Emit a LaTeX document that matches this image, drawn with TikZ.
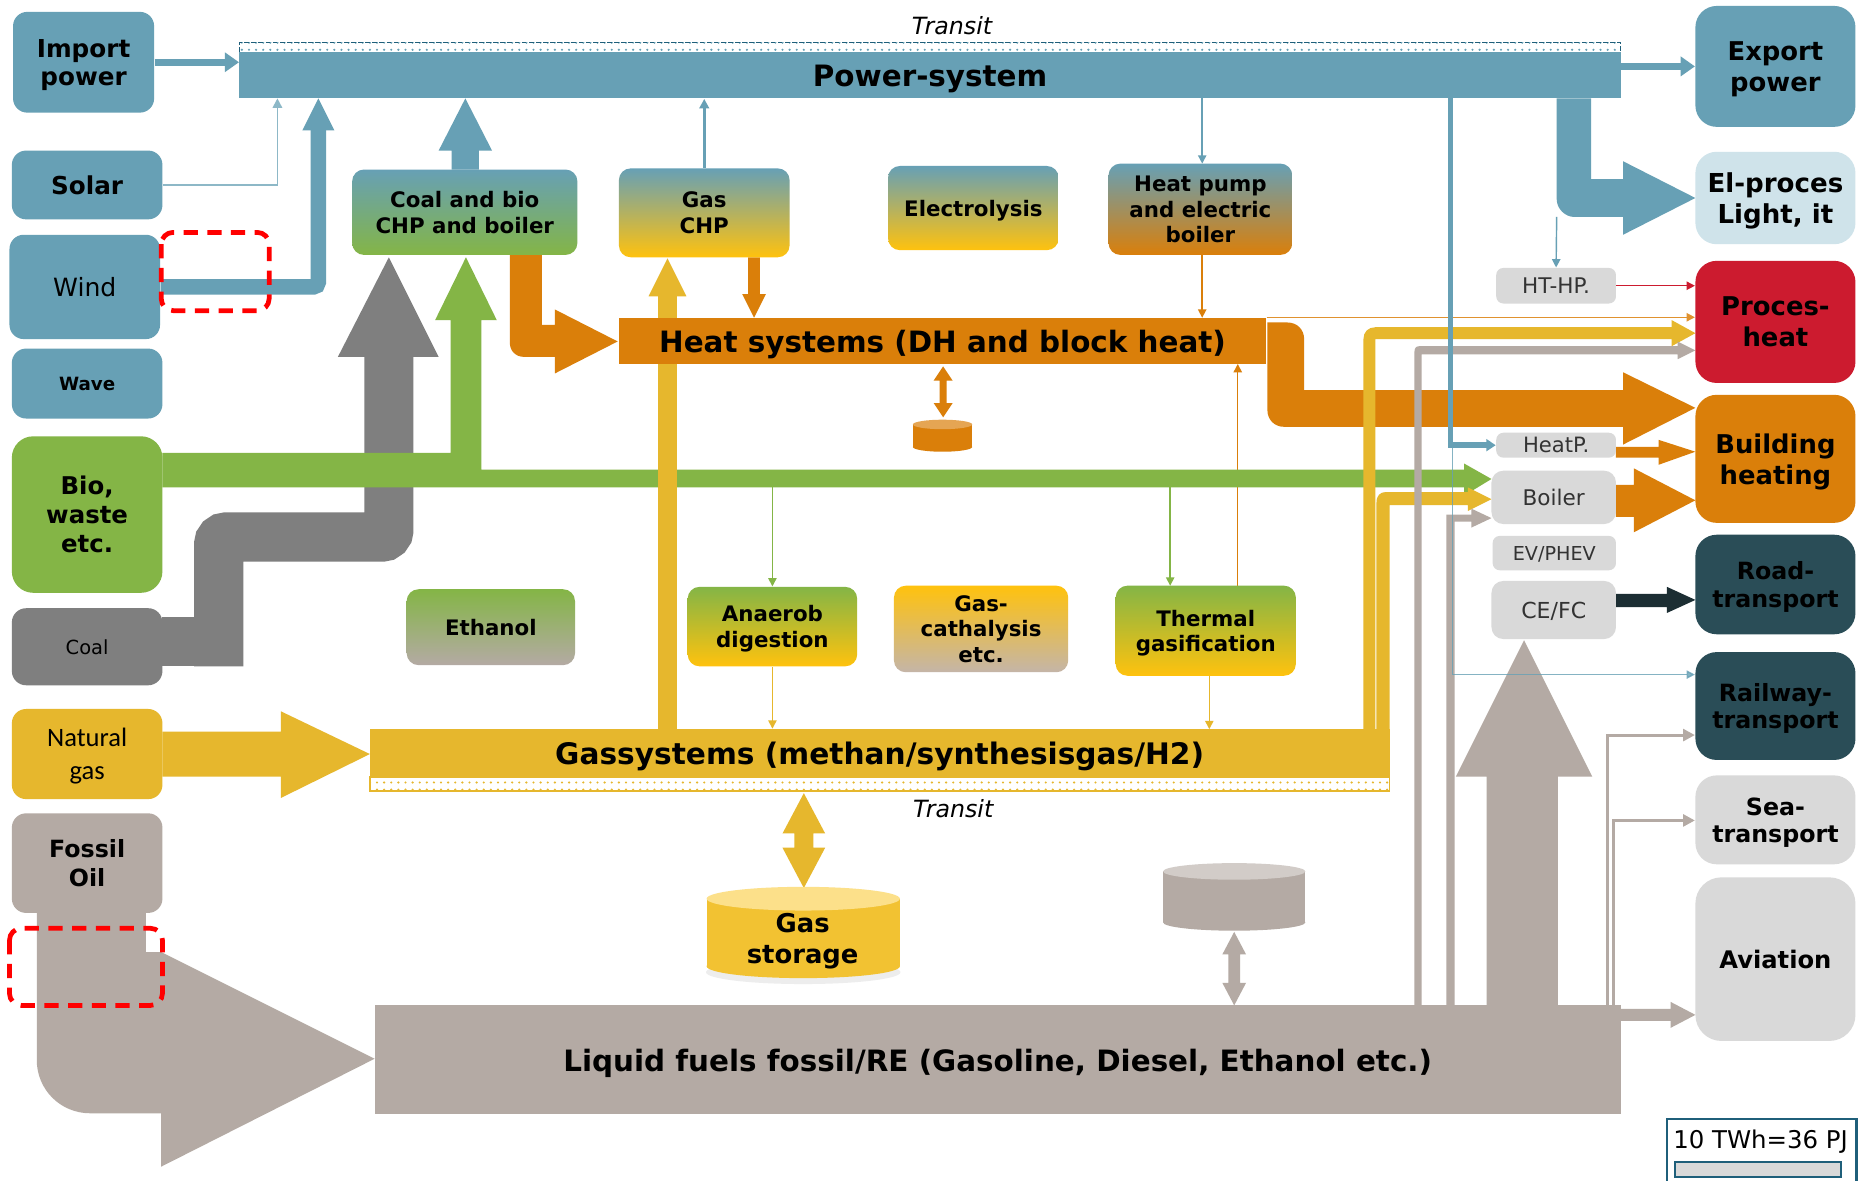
\documentclass[tikz,border=0pt]{standalone}
\usepackage{fontspec}
\setmainfont{DejaVu Sans}
\newfontfamily\calfont{Carlito}
\usetikzlibrary{arrows.meta,patterns}
\pgfdeclarelayer{flows}
\pgfsetlayers{flows,main}
\definecolor{pblue}{HTML}{67A0B5}
\definecolor{lblue}{HTML}{CFE3EA}
\definecolor{bgreen}{HTML}{84B546}
\definecolor{cgrey}{HTML}{7F7F7F}
\definecolor{gyellow}{HTML}{E6B72D}
\definecolor{gold}{HTML}{FFC20E}
\definecolor{horange}{HTML}{DA7F0A}
\definecolor{taupe}{HTML}{B4AAA4}
\definecolor{ptaupe}{HTML}{C4B5A8}
\definecolor{pred}{HTML}{CC1B2F}
\definecolor{dteal}{HTML}{2A4D57}
\definecolor{ddark}{HTML}{1C2E33}
\definecolor{lgrey}{HTML}{D9D9D9}
\definecolor{tblue}{HTML}{1F5F7A}
\definecolor{sgold}{HTML}{F2C232}
\definecolor{sgoldtop}{HTML}{FCE08A}
\newcommand\bx[7]{\node[#6, minimum width={(#4-#2)*0.5pt}, minimum height={(#5-#3)*0.5pt}] (#1) at ({(#2+#4)/2},{(#3+#5)/2}) {#7};}
\newcommand\fsz[2]{\fontsize{#1}{#2}\selectfont}
\newcommand\vdbl[7]{\fill[#1] (#2,#3) -- ({#2+#5},{#3+#7}) -- ({#2+#6},{#3+#7}) -- ({#2+#6},{#4-#7}) -- ({#2+#5},{#4-#7}) -- (#2,#4) -- ({#2-#5},{#4-#7}) -- ({#2-#6},{#4-#7}) -- ({#2-#6},{#3+#7}) -- ({#2-#5},{#3+#7}) -- cycle;}
\tikzset{
  box/.style={rounded corners=6pt, inner sep=0pt, align=center, text=black, text depth=0pt},
  rbox/.style={box, rounded corners=9pt},
  mbox/.style={box, rounded corners=5pt, font=\fsz{9}{10.8}\bfseries},
  gbox/.style={box, rounded corners=3pt, fill=lgrey, text=black!80},
  bar/.style={inner sep=0pt, align=center, text depth=0pt, font=\fsz{12.4}{15}\bfseries},
  thinarrow/.style={line width=0.6pt, -{Triangle[length=3.5pt,width=3.5pt]}},
  redd/.style={draw=red, line width=2pt, dash pattern=on 6pt off 4pt, rounded corners=5pt},
}
\begin{document}
\begin{tikzpicture}[x=0.5pt,y=-0.5pt]
\useasboundingbox (0,0) rectangle (1568,996);
\begin{pgfonlayer}{flows}
\fill[white] (0,0) rectangle (1568,996);
\end{pgfonlayer}

% ---------- bars ----------
\fill[pattern=dots, pattern color=pblue] (202,36) rectangle (1367,44);
\draw[tblue, line width=0.6pt, dash pattern=on 2pt off 1pt] (202,44) -- (202,36) -- (1367,36) -- (1367,44);
\bx{power}{202}{44}{1367}{83}{bar, fill=pblue}{Power-system}
\node[font=\fsz{10}{12}\itshape] (transitA) at (803,22) {Transit};

\bx{heat}{522}{268}{1068}{307}{bar, fill=horange}{Heat systems (DH and block heat)}

\bx{gas}{312}{615}{1172}{655}{bar, fill=gyellow, font=\fsz{12.5}{15}\bfseries}{Gassystems (methan/synthesisgas/H2)}
\fill[pattern=dots, pattern color=gyellow] (312,655) rectangle (1172,667);
\draw[gyellow, line width=0.8pt] (312,655) rectangle (1172,667);
\node[font=\fsz{10}{12}\itshape] (transitB) at (804,682) {Transit};

\bx{liquid}{316}{848}{1367}{940}{bar, fill=taupe}{Liquid fuels fossil/RE (Gasoline, Diesel, Ethanol etc.)}

% ---------- left column ----------
\bx{import}{11}{10}{130}{95}{box, fill=pblue, font=\fsz{10.4}{12}\bfseries}{Import\\power}
\bx{solar}{10}{127}{137}{185}{box, fill=pblue, font=\fsz{10.4}{12}\bfseries}{Solar}
\bx{wind}{8}{198}{135}{286}{box, fill=pblue, font=\fsz{10.6}{12}}{Wind}
\bx{wave}{10}{294}{137}{353}{box, fill=pblue, font=\fsz{7.7}{9}\bfseries}{Wave}
\bx{bio}{10}{368}{137}{500}{box, rounded corners=9pt, fill=bgreen, font=\fsz{10.3}{12.2}\bfseries}{Bio,\\waste\\etc.}
\bx{coal}{10}{513}{137}{578}{box, fill=cgrey, font=\fsz{8.2}{10}}{Coal}
\bx{natgas}{10}{598}{137}{674}{box, fill=gyellow, font=\calfont\fsz{11.2}{14}}{Natural\\gas}
\bx{fossil}{10}{686}{137}{770}{box, fill=taupe, font=\fsz{10}{12}\bfseries}{Fossil\\Oil}

% ---------- right column ----------
\bx{export}{1430}{5}{1565}{107}{rbox, fill=pblue, font=\fsz{10.9}{13}\bfseries}{Export\\power}
\bx{elproc}{1430}{128}{1565}{206}{rbox, fill=lblue, font=\fsz{11}{13}\bfseries}{El-proces\\Light, it}
\bx{procheat}{1430}{220}{1565}{323}{rbox, fill=pred, font=\fsz{10.9}{13}\bfseries}{Proces-\\heat}
\bx{building}{1430}{333}{1565}{441}{rbox, fill=horange, font=\fsz{10.9}{13}\bfseries}{Building\\heating}
\bx{road}{1430}{451}{1565}{535}{rbox, fill=dteal, font=\fsz{10}{11.5}\bfseries}{Road-\\transport}
\bx{railway}{1430}{550}{1565}{641}{rbox, fill=dteal, font=\fsz{10}{11.5}\bfseries}{Railway-\\transport}
\bx{sea}{1430}{654}{1565}{729}{rbox, fill=lgrey, font=\fsz{10}{11.5}\bfseries}{Sea-\\transport}
\bx{aviation}{1430}{740}{1565}{878}{rbox, rounded corners=11pt, fill=lgrey, font=\fsz{10.2}{12}\bfseries}{Aviation}

% ---------- conversion boxes ----------
\bx{chp}{297}{143}{487}{215}{mbox, top color=pblue, bottom color=bgreen}{Coal and bio\\CHP and boiler}
\bx{gaschp}{522}{142}{666}{217}{mbox, top color=pblue, bottom color=gold}{Gas\\CHP}
\bx{electro}{749}{140}{893}{211}{mbox, top color=pblue, bottom color=gold}{Electrolysis}
\bx{hp}{935}{138}{1090}{215}{mbox, top color=pblue, bottom color=horange}{Heat pump\\and electric\\boiler}
\bx{ethanol}{343}{497}{485}{561}{mbox, top color=bgreen, bottom color=taupe}{Ethanol}
\bx{anaerob}{580}{495}{723}{562}{mbox, top color=bgreen, bottom color=gold}{Anaerob\\digestion}
\bx{gascat}{754}{494}{901}{567}{mbox, top color=gold, bottom color=ptaupe}{Gas-\\cathalysis\\etc.}
\bx{thermal}{941}{494}{1093}{570}{mbox, top color=bgreen, bottom color=gold}{Thermal\\gasification}

% ---------- end-use technologies ----------
\bx{htph}{1262}{226}{1363}{256}{gbox, font=\fsz{9.1}{11}}{HT-HP.}
\bx{heatp}{1262}{365}{1363}{386}{gbox, font=\fsz{8.9}{11}}{HeatP.}
\bx{boiler}{1258}{397}{1363}{442}{gbox, rounded corners=5pt, font=\fsz{9.1}{11}}{Boiler}
\bx{ev}{1259}{452}{1363}{481}{gbox, font=\fsz{8.1}{10}}{EV/PHEV}
\bx{cefc}{1258}{490}{1363}{539}{gbox, rounded corners=5pt, font=\fsz{9.3}{11}}{CE/FC}

% ---------- storages ----------
\fill[black!7] (677.5,820) ellipse [x radius=41pt, y radius=5pt];
\fill[sgold] (596,758) rectangle (759,815);
\fill[sgold] (677.5,815) ellipse [x radius=40.75pt, y radius=5pt];
\fill[sgoldtop] (677.5,758) ellipse [x radius=40.75pt, y radius=5pt];
\node[font=\fsz{10.9}{13}\bfseries, align=center] (gasstor) at (677,794) {Gas\\storage};

\fill[horange] (770,358) rectangle (820,377);
\fill[horange] (795,377) ellipse [x radius=12.5pt, y radius=2pt];
\fill[horange!70!white] (795,358) ellipse [x radius=12.5pt, y radius=2pt];
\coordinate (heatstor) at (795,356);

\fill[taupe] (981,735) rectangle (1101,778);
\fill[taupe] (1041,778) ellipse [x radius=30pt, y radius=3.5pt];
\fill[taupe!60!white] (1041,735) ellipse [x radius=30pt, y radius=3.5pt];
\coordinate (liqstor) at (1041,786);

\begin{pgfonlayer}{flows}
% ---------- power flows ----------
\draw[pblue, line width=3pt, -{Triangle[length=6pt,width=8pt]}] (import.east) -- (import.east -| power.west);
\draw[pblue!75!white, line width=0.7pt, -{Triangle[length=4pt,width=4pt]}] (solar.east) -| (234,83);
\draw[pblue, line width=6.5pt, rounded corners=2pt] (wind.east) -| (268.5,108);
\fill[pblue] (255,110) -- (268.5,83) -- (282,110) -- cycle;
\fill[pblue] (381,143) -- (381,127) -- (370,127) -- (392.5,83) -- (415,127) -- (404,127) -- (404,143) -- cycle;
\draw[pblue, line width=1.3pt, -{Triangle[length=4pt,width=4pt]}] (gaschp.north) -- (gaschp.north |- power.south);
\draw[pblue, thinarrow] (1014,83) -- (1014,138);
\draw[pblue, line width=3pt, -{Triangle[length=6pt,width=8pt]}] (power.east |- export.west) -- (export.west);
\fill[pblue] (1313,83) -- (1313,168) .. controls (1313,176) and (1320,183) .. (1328,183) -- (1369,183) -- (1369,198) -- (1430,167) -- (1369,136) -- (1369,151) -- (1342,151) -- (1342,83) -- cycle;
\draw[pblue, thinarrow] (1313,183) -- (htph.north);

% ---------- heat flows ----------
\fill[horange] (430,215) -- (430,289) .. controls (430,296) and (435,301) .. (442,301) -- (468,301) -- (468,315) -- (521,288) -- (468,261) -- (468,274) -- (457,274) -- (457,215) -- cycle;
\fill[horange] (631,217) -- (631,248) -- (626,248) -- (636,268) -- (646,248) -- (641,248) -- (641,217) -- cycle;
\draw[horange, thinarrow] (1014,215) -- (1014,268);
\draw[horange!85!white, thinarrow] (heat.north east) -- (heat.north east -| procheat.west);
\vdbl{horange}{795.5}{309}{352}{8}{3}{12}
\fill[horange] (1069,272) -- (1086,272) .. controls (1094,272) and (1100,278) .. (1100,286) -- (1100,329) -- (1369,329) -- (1369,314) -- (1430,344) -- (1369,375) -- (1369,360) -- (1083,360) .. controls (1075,360) and (1069,354) .. (1069,346) -- cycle;
\fill[horange] (1363,377) -- (1399,377) -- (1399,371) -- (1430,381) -- (1399,392) -- (1399,386) -- (1363,386) -- cycle;
\fill[horange] (1363,409) -- (1378,409) -- (1378,395) -- (1430,422) -- (1378,449) -- (1378,436) -- (1363,436) -- cycle;
\draw[horange, thinarrow] (1044,494) -- (1044,307);
\draw[pred, thinarrow] (htph.east) -- (htph.east -| procheat.west);

% ---------- coal ----------
\fill[cgrey] (137,520) rectangle (205,562);
\draw[cgrey, line width=20.75pt, rounded corners=3pt] (184.5,562) -- (184.5,453) -- (328,453) -- (328,300);
\fill[cgrey] (285,301) -- (328,217) -- (370,301) -- cycle;

% ---------- bio ----------
\fill[bgreen] (137,382) -- (380,382) -- (380,270) -- (367,270) -- (393,217) -- (419,270) -- (406,270) -- (406,396) -- (1235,396) -- (1235,391) -- (1258,404) -- (1235,418) -- (1235,411) -- (137,411) -- cycle;
\draw[bgreen, thinarrow] (anaerob.north |- 0,411) -- (anaerob.north);
\draw[bgreen, thinarrow] (987,411) -- (987,494);

% ---------- gas ----------
\fill[gyellow] (137,617) -- (237,617) -- (237,600) -- (312,636) -- (237,673) -- (237,655) -- (137,655) -- cycle;
\fill[gyellow] (555,615) -- (555,250) -- (547,250) -- (563,218) -- (579,250) -- (571,250) -- (571,615) -- cycle;
\draw[gyellow, thinarrow] (anaerob.south) -- (anaerob.south |- gas.north);
\draw[gyellow, thinarrow] (1020,570) -- (1020,615);
\fill[gyellow] (1150,616) -- (1150,286) .. controls (1150,280) and (1154,276) .. (1160,276) -- (1410,276) -- (1410,270) -- (1430,281) -- (1410,292) -- (1410,286) -- (1160,286) -- (1160,616) -- cycle;
\fill[gyellow] (1161,616) -- (1161,424) .. controls (1161,418) and (1164,415) .. (1169,415) -- (1238,415) -- (1238,411) -- (1258,421) -- (1238,431) -- (1238,426) -- (1172,426) -- (1172,616) -- cycle;
\vdbl{gyellow}{678}{669}{749}{18}{8}{34}

% ---------- liquid fuels ----------
\fill[taupe] (123,770) -- (31,770) -- (31,894) .. controls (31,919) and (51,939) .. (76,939) -- (136,939) -- (136,984) -- (316,893) -- (136,803) -- (123,803) -- cycle;
\fill[taupe] (1193,848) -- (1193,297) .. controls (1193,294) and (1194,292) .. (1197,292) -- (1415,292) -- (1415,288) -- (1430,295.5) -- (1415,303) -- (1415,299) -- (1199,299) -- (1199,848) -- cycle;
\fill[taupe] (1220,848) -- (1220,434) -- (1241,434) -- (1241,429) -- (1258,437) -- (1241,445) -- (1241,440) -- (1227,440) -- (1227,848) -- cycle;
\fill[taupe] (1254,848) -- (1254,655) -- (1228,655) -- (1285.5,540) -- (1343,655) -- (1314,655) -- (1314,848) -- cycle;
\draw[taupe, line width=1.3pt, -{Triangle[length=5pt,width=5pt]}] (1356,848) |- (railway.west |- 0,620);
\draw[taupe, line width=1.3pt, -{Triangle[length=5pt,width=5pt]}] (1361,848) |- (sea.west |- 0,692);
\fill[taupe] (1367,851) -- (1409,851) -- (1409,845) -- (1430,856) -- (1409,867) -- (1409,861) -- (1367,861) -- cycle;
\vdbl{taupe}{1041}{786}{848}{10}{5}{19}

% ---------- road ----------
\fill[ddark] (1363,501) -- (1406,501) -- (1406,495) -- (1430,506) -- (1406,517) -- (1406,512) -- (1363,512) -- cycle;

% ---------- blue distribution ----------
\draw[pblue, line width=2.3pt, -{Triangle[length=4pt,width=5pt]}] (1223.5,83) |- (heatp.west);
\draw[pblue, opacity=0.8, line width=0.6pt, -{Triangle[length=3.5pt,width=3.5pt]}] (1225,376) |- (railway.west |- 0,569);
\end{pgfonlayer}

% ---------- markers ----------
\draw[redd] (136,196) rectangle (227,262);
\draw[redd] (8,783) rectangle (137,848);

% ---------- legend ----------
\draw[tblue, line width=1pt] (1406,944) rectangle (1566,1000);
\node[font=\fsz{10.3}{12}] (legend) at (1485,963) {10 TWh=36 PJ};
\draw[tblue, line width=0.8pt, fill=lgrey] (1413,980) rectangle (1553,993);
\end{tikzpicture}
\end{document}
